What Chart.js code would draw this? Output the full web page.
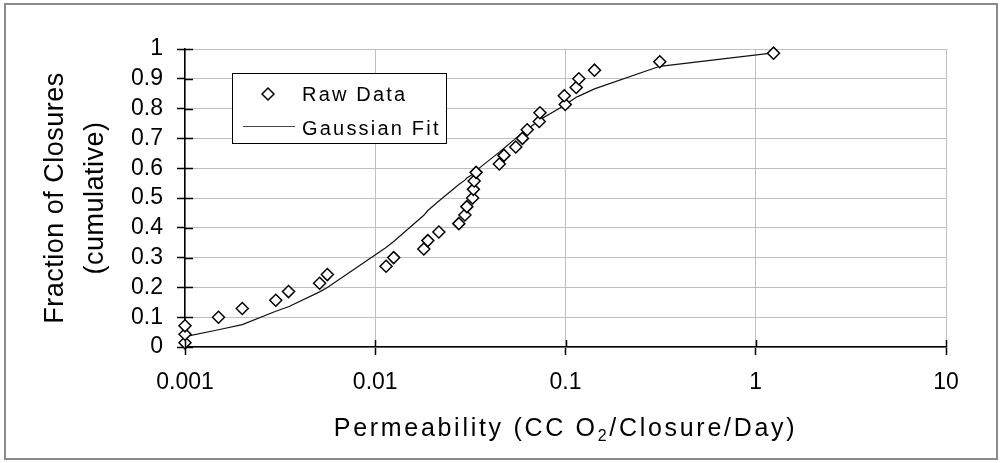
<!DOCTYPE html>
<html>
<head>
<meta charset="utf-8">
<script src="https://cdn.jsdelivr.net/npm/chart.js@4.4.1/dist/chart.umd.min.js"></script>
<style>
  html, body { margin: 0; padding: 0; background: #fff; }
</style>
</head>
<body>
<canvas id="chart" width="1003" height="463"></canvas>
<script>
// measured points (cumulative fraction vs permeability)
var rawX = [0.001, 0.001, 0.001, 0.0015, 0.002, 0.003, 0.0035, 0.0051, 0.0056, 0.0114,
            0.0125, 0.018, 0.0189, 0.0216, 0.0275, 0.0296, 0.0303, 0.0325, 0.0328, 0.0331,
            0.0339, 0.0449, 0.0475, 0.0548, 0.0594, 0.0629, 0.0728, 0.0734, 0.0997, 0.0985,
            0.1138, 0.1175, 0.142, 0.313, 1.24];
var rawY = [0.014, 0.043, 0.071, 0.1, 0.129, 0.157, 0.186, 0.214, 0.243, 0.271,
            0.3, 0.329, 0.357, 0.386, 0.414, 0.443, 0.471, 0.5, 0.529, 0.557,
            0.586, 0.614, 0.643, 0.671, 0.7, 0.729, 0.757, 0.786, 0.814, 0.843,
            0.871, 0.9, 0.929, 0.957, 0.986];

// fitted curve
var fitX = [0.001, 0.0015, 0.002, 0.003, 0.0035, 0.0051, 0.0056, 0.0114, 0.0125, 0.018,
            0.0189, 0.0216, 0.0275, 0.0296, 0.0303, 0.0325, 0.0328, 0.0331, 0.0339, 0.0449,
            0.0475, 0.0548, 0.0594, 0.0629, 0.0728, 0.0734, 0.0985, 0.0997, 0.1138, 0.1175,
            0.142, 0.313, 1.24];
var fitY = [0.035, 0.058, 0.075, 0.12, 0.135, 0.185, 0.2, 0.334, 0.354, 0.442,
            0.458, 0.49, 0.545, 0.56, 0.567, 0.58, 0.582, 0.585, 0.592, 0.654,
            0.667, 0.7, 0.717, 0.73, 0.761, 0.763, 0.81, 0.813, 0.838, 0.842,
            0.866, 0.942, 0.987];

var xTicks = [0.001, 0.01, 0.1, 1, 10];
var xLabels = ["0.001", "0.01", "0.1", "1", "10"];
var yTicks = [0, 0.1, 0.2, 0.3, 0.4, 0.5, 0.6, 0.7, 0.8, 0.9, 1];
var yLabels = ["0", "0.1", "0.2", "0.3", "0.4", "0.5", "0.6", "0.7", "0.8", "0.9", "1"];

var seriesNames = ["Raw Data", "Gaussian Fit"];
var yTitle = ["Fraction of Closures", "(cumulative)"];

var FONT = '"Liberation Sans", Arial, sans-serif';

function pairs(xs, ys) {
  return xs.map(function (x, i) { return { x: x, y: ys[i] }; });
}

var decor = {
  id: 'decor',
  beforeDraw: function (chart) {
    var ctx = chart.ctx;
    ctx.save();
    ctx.fillStyle = '#fff';
    ctx.fillRect(0, 0, chart.width, chart.height);
    ctx.strokeStyle = '#8a8a8a';
    ctx.lineWidth = 2;
    ctx.strokeRect(5, 4, 992, 455);
    ctx.restore();
  },
  afterDraw: function (chart) {
    var ctx = chart.ctx;
    var xs = chart.scales.x, ys = chart.scales.y;
    var a = chart.chartArea;
    ctx.save();

    // inner half of the crossing tick marks
    ctx.strokeStyle = '#000';
    ctx.lineWidth = 1.5;
    ctx.beginPath();
    yTicks.forEach(function (v) {
      var p = Math.round(ys.getPixelForValue(v)) + 0.5;
      ctx.moveTo(a.left, p); ctx.lineTo(a.left + 8, p);
    });
    xTicks.forEach(function (v) {
      var p = Math.round(xs.getPixelForValue(v)) + 0.5;
      ctx.moveTo(p, a.bottom); ctx.lineTo(p, a.bottom - 7);
    });
    ctx.stroke();

    // legend
    var lx = 232, ly = 73, lw = 214, lh = 70;
    ctx.fillStyle = '#fff';
    ctx.fillRect(lx, ly, lw, lh);
    ctx.strokeStyle = '#000';
    ctx.lineWidth = 1;
    ctx.strokeRect(lx + 0.5, ly + 0.5, lw, lh);
    Chart.helpers.drawPoint(ctx, { pointStyle: 'rectRot', radius: 6, borderWidth: 1.5 }, lx + 36, ly + 21);
    ctx.strokeStyle = '#000';
    ctx.lineWidth = 1.5;
    ctx.stroke();
    ctx.beginPath();
    ctx.strokeStyle = '#444';
    ctx.lineWidth = 1;
    ctx.moveTo(lx + 11, ly + 53.5);
    ctx.lineTo(lx + 63, ly + 53.5);
    ctx.stroke();
    ctx.fillStyle = '#000';
    ctx.font = '20px ' + FONT;
    ctx.letterSpacing = '2.2px';
    ctx.textAlign = 'left';
    ctx.textBaseline = 'alphabetic';
    ctx.fillText(seriesNames[0], lx + 70, ly + 28);
    ctx.fillText(seriesNames[1], lx + 70, ly + 62);

    // x title with subscript
    var cx = (a.left + a.right) / 2;
    var base = 436;
    var p1 = 'Permeability (CC O', p2 = '2', p3 = '/Closure/Day)';
    ctx.letterSpacing = '2.7px';
    ctx.font = '25px ' + FONT;
    var w1 = ctx.measureText(p1).width, w3 = ctx.measureText(p3).width;
    ctx.font = '16px ' + FONT;
    var w2 = ctx.measureText(p2).width;
    var sx = cx - (w1 + w2 + w3) / 2;
    ctx.font = '25px ' + FONT;
    ctx.fillText(p1, sx, base);
    ctx.font = '16px ' + FONT;
    ctx.fillText(p2, sx + w1, base + 5);
    ctx.font = '25px ' + FONT;
    ctx.fillText(p3, sx + w1 + w2, base);

    // y title, two lines, rotated
    var cy = (a.top + a.bottom) / 2;
    ctx.letterSpacing = '0.5px';
    ctx.font = '27px ' + FONT;
    ctx.textAlign = 'center';
    [63, 103].forEach(function (bx, i) {
      ctx.save();
      ctx.translate(bx, cy);
      ctx.rotate(-Math.PI / 2);
      ctx.fillText(yTitle[i], 0, 0);
      ctx.restore();
    });

    ctx.restore();
  }
};

new Chart('chart', {
  type: 'scatter',
  data: {
    datasets: [{
      label: seriesNames[0],
      data: pairs(rawX, rawY),
      pointStyle: 'rectRot',
      pointRadius: 6,
      pointHoverRadius: 6,
      borderColor: '#000',
      backgroundColor: '#fff',
      pointBorderWidth: 1.5,
      showLine: false,
      clip: false
    }, {
      label: seriesNames[1],
      data: pairs(fitX, fitY),
      showLine: true,
      pointRadius: 0,
      borderColor: '#111',
      borderWidth: 1.2,
      tension: 0,
      fill: false,
      clip: false
    }]
  },
  options: {
    responsive: false,
    animation: false,
    devicePixelRatio: 1,
    layout: { padding: { left: 0, right: 57, top: 49, bottom: 0 } },
    plugins: { legend: { display: false }, tooltip: { enabled: false } },
    scales: {
      x: {
        type: 'logarithmic',
        min: 0.001,
        max: 10,
        afterBuildTicks: function (s) {
          s.ticks = xTicks.map(function (v) { return { value: v }; });
        },
        afterFit: function (s) {
          s.height = 116;
          s.paddingLeft = 0; s.paddingRight = 0;
        },
        ticks: {
          autoSkip: false,
          maxRotation: 0,
          padding: 14,
          color: '#000',
          font: { family: FONT, size: 23 },
          callback: function (v) {
            var i = xTicks.indexOf(v);
            return i >= 0 ? xLabels[i] : '';
          }
        },
        grid: { color: '#c0c0c0', lineWidth: 1, tickLength: 8, tickColor: '#000', tickWidth: 1.5 },
        border: { color: '#000', width: 1.5 }
      },
      y: {
        min: 0,
        max: 1,
        afterBuildTicks: function (s) {
          s.ticks = yTicks.map(function (v) { return { value: v }; });
        },
        afterFit: function (s) {
          s.width = 185;
          s.paddingTop = 0; s.paddingBottom = 0;
        },
        ticks: {
          autoSkip: false,
          padding: 14,
          color: '#000',
          font: { family: FONT, size: 23 },
          callback: function (v) {
            var i = yTicks.indexOf(Math.round(v * 10) / 10);
            return i >= 0 ? yLabels[i] : '';
          }
        },
        grid: { color: '#c0c0c0', lineWidth: 1, tickLength: 8, tickColor: '#000', tickWidth: 1.5 },
        border: { color: '#000', width: 1.5 }
      }
    }
  },
  plugins: [decor]
});
</script>
</body>
</html>
